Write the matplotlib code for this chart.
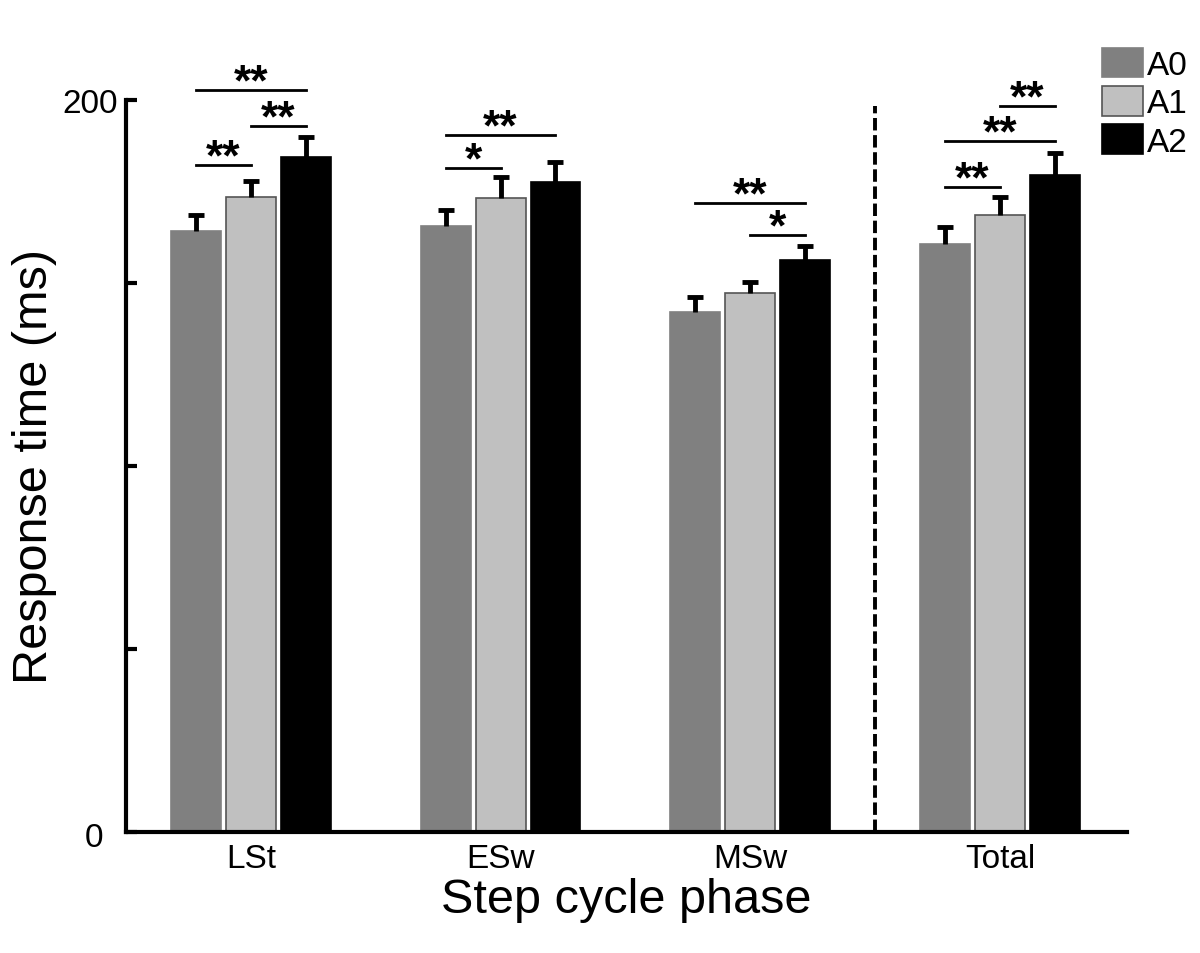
import numpy as np
import matplotlib
matplotlib.use('Agg')
import matplotlib.pyplot as plt

plt.rcParams['font.family'] = ['Liberation Sans', 'DejaVu Sans']

# Datos
fases = ['LSt', 'ESw', 'MSw', 'Total']
grupos = ['A0', 'A1', 'A2']
a0 = [164.2, 165.6, 142.1, 160.7]
a1 = [173.5, 173.2, 147.3, 168.6]
a2 = [184.4, 177.6, 156.3, 179.6]
err_a0 = [4.4, 4.4, 4.1, 4.6]
err_a1 = [4.4, 5.7, 3.0, 4.9]
err_a2 = [5.5, 5.5, 3.8, 5.9]

# Significancia: (fase, barra inicio, barra fin, altura, etiqueta)
sig = [
    (0, 0, 1, 182.2, '**'),
    (0, 1, 2, 192.9, '**'),
    (0, 0, 2, 202.7, '**'),
    (1, 0, 1, 181.4, '*'),
    (1, 0, 2, 190.4, '**'),
    (2, 1, 2, 163.1, '*'),
    (2, 0, 2, 171.9, '**'),
    (3, 0, 1, 176.2, '**'),
    (3, 0, 2, 188.8, '**'),
    (3, 1, 2, 198.4, '**'),
]

valores = [a0, a1, a2]
errores = [err_a0, err_a1, err_a2]
colores = ['#808080', '#c0c0c0', '#000000']
bordes = ['#808080', '#555555', '#000000']

fig = plt.figure(figsize=(12, 9.54), dpi=100)
ax = fig.add_axes([0.105, 0.127, 0.834, 0.767])

x = np.arange(len(fases))
paso = 0.22
ancho = 0.2
for i, g in enumerate(grupos):
    pos = x + (i - 1) * paso
    sup = np.array(valores[i]) + np.array(errores[i])
    ax.bar(pos, valores[i], width=ancho, color=colores[i], edgecolor=bordes[i],
           linewidth=1.2, label=g, zorder=2)
    # solo barra de error superior
    ax.vlines(pos, valores[i], sup, color='black', linewidth=3.5, zorder=3)
    ax.plot(pos, sup, linestyle='none', marker='_', markersize=11, mew=3.5,
            color='black', zorder=3)

# Líneas de significancia
for f, b0, b1, h, txt in sig:
    x0 = f + (b0 - 1) * paso
    x1 = f + (b1 - 1) * paso
    ax.plot([x0, x1], [h, h], color='black', linewidth=2, clip_on=False)
    ax.annotate(txt, xy=((x0 + x1) / 2, h), xytext=(0, -3), textcoords='offset points',
                ha='center', va='baseline', fontsize=32, fontweight='bold',
                annotation_clip=False)

# Separador Total
ax.plot([2.5, 2.5], [0, 198.4], color='black', linewidth=2.8,
        linestyle=(0, (3.2, 1.2)), clip_on=False)

ax.set_xlim(-0.5, 3.508)
ax.set_ylim(0, 200)
ax.set_xticks(x)
ax.set_xticklabels(fases, fontsize=24)
ax.set_yticks([0, 50, 100, 150, 200])
ax.set_yticklabels(['', '', '', '', '200'], fontsize=24)
ax.text(-0.592, -1.5, '0', fontsize=24, ha='right', va='center')
ax.tick_params(axis='y', direction='in', length=8, width=3, pad=6)
ax.tick_params(axis='x', length=0, pad=8)
for s in ['top', 'right']:
    ax.spines[s].set_visible(False)
for s in ['left', 'bottom']:
    ax.spines[s].set_linewidth(3)

ax.set_xlabel('Step cycle phase', fontsize=35, labelpad=2)
ax.set_ylabel('Response time (ms)', fontsize=35, labelpad=4)

ax.legend(loc='upper left', bbox_to_anchor=(0.962, 1.09), frameon=False, fontsize=24,
          handlelength=1.24, handleheight=1.0, handletextpad=0.1, labelspacing=0.15,
          borderaxespad=0)

fig.savefig('out.png', dpi=100)
